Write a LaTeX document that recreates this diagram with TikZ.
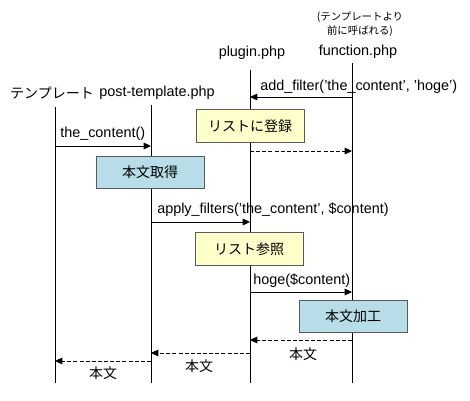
\documentclass[tikz,border=0pt]{standalone}
\usepackage{fontspec}
\setmainfont{Liberation Sans}
\newfontfamily\jpfont{Noto Sans CJK JP}
\usetikzlibrary{arrows.meta,positioning,calc}

\definecolor{memofill}{HTML}{FFFFCC}
\definecolor{procfill}{HTML}{B7DEE8}

\begin{document}
\begin{tikzpicture}[
  x=0.75pt, y=-0.75pt,
  head/.style={font=\fontsize{10.8}{12}\selectfont, inner sep=0pt},
  life/.style={line width=0.75pt},
  msg/.style={-{Triangle[length=5.5pt,width=5pt]}, line width=0.75pt},
  ret/.style={msg, dash pattern=on 3pt off 1.6pt},
  memo/.style={draw=black!65, line width=0.75pt, fill=memofill, minimum width=81pt,
    minimum height=24.5pt, inner sep=0pt, font=\jpfont\fontsize{10.5}{12}\selectfont},
  proc/.style={memo, fill=procfill},
  lbl/.style={font=\fontsize{10.8}{12}\selectfont, inner sep=0pt, anchor=base west},
  ans/.style={font=\jpfont\fontsize{10.5}{12}\selectfont, inner sep=0pt}
]
  \useasboundingbox (0,0) rectangle (470,400);

  % lifeline heads
  \node[head, font=\jpfont\fontsize{10.5}{12}\selectfont] (tpl) at (52,93) {テンプレート};
  \node[head] (post) at (157,93) {post-template.php};
  \node[head] (plugin) at (252,53) {plugin.php};
  \node[head] (func) at (358,52) {function.php};
  \node[head, align=center, font=\jpfont\fontsize{7.8}{10.5}\selectfont] (note) at (360,24.5)
    {(テンプレートより\\前に呼ばれる)};

  % lifelines
  \coordinate (tpl-top) at (55,107);   \coordinate (tpl-bot) at (55,383);
  \coordinate (post-top) at (151,105); \coordinate (post-bot) at (151,383);
  \coordinate (plug-top) at (250,70);  \coordinate (plug-bot) at (250,383);
  \coordinate (func-top) at (352,63);  \coordinate (func-bot) at (352,383);
  \foreach \l in {tpl,post,plug,func}
    \draw[life] (\l-top) -- (\l-bot);

  % message end points
  \coordinate (m1a) at (352,97);  \coordinate (m1b) at (250,97);
  \coordinate (m2a) at (55,146);  \coordinate (m2b) at (151,146);
  \coordinate (m3a) at (250,151); \coordinate (m3b) at (352,151);
  \coordinate (m4a) at (151,222); \coordinate (m4b) at (250,222);
  \coordinate (m5a) at (250,292); \coordinate (m5b) at (352,292);
  \coordinate (r1a) at (352,340); \coordinate (r1b) at (250,340);
  \coordinate (r2a) at (250,353); \coordinate (r2b) at (151,353);
  \coordinate (r3a) at (151,361); \coordinate (r3b) at (55,361);

  % activity boxes
  \node[memo] (reg) at (250,126) {リストに登録};
  \node[proc] (get) at (150,172.5) {本文取得};
  \node[memo] (look) at (249,249) {リスト参照};
  \node[proc] (edit) at (353,316.5) {本文加工};

  % calls
  \draw[msg] (m1a) -- (m1b);
  \node[lbl] (m1) at (260,90.5) {add\_filter('the\_content', 'hoge')};
  \draw[msg] (m2a) -- (m2b);
  \node[lbl] (m2) at (60,137) {the\_content()};
  \draw[ret] (m3a) -- (m3b);
  \draw[msg] (m4a) -- (m4b);
  \node[lbl] (m4) at (157,213) {apply\_filters('the\_content', \$content)};
  \draw[msg] (m5a) -- (m5b);
  \node[lbl] (m5) at (253,284) {hoge(\$content)};

  % returns
  \draw[ret] (r1a) -- (r1b);
  \node[ans] (r1) at (303,354) {本文};
  \draw[ret] (r2a) -- (r2b);
  \node[ans] (r2) at (199,366) {本文};
  \draw[ret] (r3a) -- (r3b);
  \node[ans] (r3) at (103,373) {本文};
\end{tikzpicture}
\end{document}
